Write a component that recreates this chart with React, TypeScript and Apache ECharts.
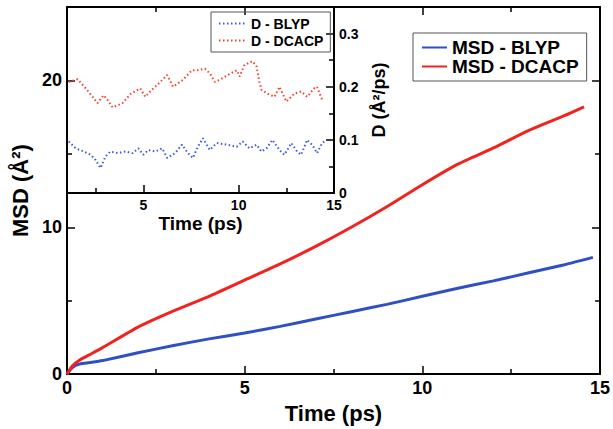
import React, { useEffect, useRef } from "react";
import * as echarts from "echarts";

// Main plot: MSD vs time
const msdBlypTime = [0, 0.15, 0.35, 0.7, 1, 2, 3, 4, 5, 6, 7, 8, 9, 10, 11, 12, 13, 14, 14.8];
const msdBlyp = [0, 0.45, 0.68, 0.8, 0.92, 1.45, 1.95, 2.4, 2.8, 3.25, 3.75, 4.25, 4.75, 5.3, 5.85, 6.35, 6.9, 7.45, 7.95];
const msdDcacpTime = [0, 0.15, 0.35, 0.7, 1, 2, 3, 4, 5, 6, 7, 8, 9, 10, 11, 12, 13, 14, 14.55];
const msdDcacp = [0, 0.55, 0.95, 1.4, 1.8, 3.2, 4.3, 5.3, 6.4, 7.5, 8.7, 10.0, 11.4, 12.9, 14.3, 15.4, 16.6, 17.6, 18.2];

// Inset: diffusion coefficient vs time
const dBlypTime = [1.09, 1.46, 1.88, 2.24, 2.5, 2.76, 3.02, 3.28, 3.65, 4.06, 4.43, 4.74, 5.0, 5.26, 5.63, 5.99, 6.25, 6.67, 7.03, 7.34, 7.6, 7.86, 8.13, 8.49, 8.85, 9.38, 9.9, 10.21, 10.57, 10.94, 11.2, 11.46, 11.77, 12.14, 12.4, 12.76, 13.07, 13.28, 13.59, 13.85, 14.11, 14.38, 14.58];
const dBlyp = [0.097, 0.084, 0.078, 0.072, 0.062, 0.047, 0.069, 0.078, 0.075, 0.078, 0.075, 0.084, 0.072, 0.081, 0.078, 0.084, 0.066, 0.075, 0.091, 0.075, 0.066, 0.087, 0.103, 0.081, 0.094, 0.091, 0.087, 0.097, 0.084, 0.091, 0.078, 0.084, 0.1, 0.081, 0.072, 0.094, 0.078, 0.072, 0.1, 0.091, 0.075, 0.094, 0.099];
const dDcacpTime = [1.09, 1.56, 1.98, 2.34, 2.6, 2.92, 3.13, 3.39, 3.91, 4.32, 4.84, 5.1, 5.36, 5.89, 6.25, 6.56, 7.08, 7.55, 7.86, 8.23, 8.49, 8.75, 9.01, 9.43, 9.9, 10.05, 10.31, 10.73, 10.94, 11.09, 11.2, 11.51, 11.88, 12.14, 12.5, 12.92, 13.28, 13.59, 13.96, 14.11, 14.38];
const dDcacp = [0.209, 0.214, 0.197, 0.181, 0.169, 0.184, 0.175, 0.161, 0.169, 0.186, 0.197, 0.181, 0.191, 0.209, 0.222, 0.2, 0.213, 0.231, 0.231, 0.234, 0.225, 0.209, 0.213, 0.222, 0.231, 0.219, 0.241, 0.248, 0.238, 0.209, 0.194, 0.187, 0.181, 0.2, 0.172, 0.187, 0.191, 0.181, 0.197, 0.2, 0.175];

// Tick labels
const mainXLabels = [0, 5, 10, 15];
const mainYLabels = [0, 10, 20];
const insetXLabels = [5, 10, 15];
const insetYLabels = [0, 0.1, 0.2, 0.3];

const FF = "'Liberation Sans', Arial, Helvetica, sans-serif";

const zip = (xs: number[], ys: number[]) => xs.map((x, i) => [x, ys[i]]);

function axis(o: any): any {
  const {
    gridIndex, position, min, max, line, ticks, tickLen, labels, labelSize, margin, name, nameGap, nameSize,
  } = o;
  return {
    type: "value",
    gridIndex,
    position,
    min,
    max,
    splitLine: { show: false },
    axisLine: { show: !!line, onZero: false, lineStyle: { color: "#000", width: 2 } },
    axisTick: {
      show: !!ticks,
      inside: true,
      length: tickLen || 6,
      customValues: ticks || [],
      lineStyle: { color: "#000", width: 1.5 },
    },
    axisLabel: labels
      ? {
          show: true,
          customValues: labels,
          fontSize: labelSize,
          fontWeight: "bold",
          color: "#000",
          fontFamily: FF,
          margin,
        }
      : { show: false },
    name: name || "",
    nameLocation: "middle",
    nameGap: nameGap || 0,
    nameTextStyle: { fontSize: nameSize, fontWeight: "bold", color: "#000", fontFamily: FF },
  };
}

export default function App() {
  const ref = useRef<HTMLDivElement>(null);
  useEffect(() => {
    if (!ref.current) return;
    const chart = echarts.init(ref.current, undefined, { renderer: "svg" });
    chart.setOption({
      animation: false,
      backgroundColor: "#fff",
      grid: [
        { left: 67, top: 7, width: 533, height: 375 },
        { left: 67, top: 7, width: 267, height: 186 },
      ],
      xAxis: [
        axis({ gridIndex: 0, position: "bottom", min: 0, max: 15, line: true, ticks: [5, 10], tickLen: 8, labels: mainXLabels, labelSize: 18, margin: 5, name: "Time (ps)", nameGap: 24, nameSize: 22 }),
        axis({ gridIndex: 0, position: "bottom", min: 0, max: 15, ticks: [2.5, 7.5, 12.5], tickLen: 5 }),
        axis({ gridIndex: 0, position: "top", min: 0, max: 15, line: true, ticks: [5, 10], tickLen: 8 }),
        axis({ gridIndex: 0, position: "top", min: 0, max: 15, ticks: [2.5, 7.5, 12.5], tickLen: 5 }),
        axis({ gridIndex: 1, position: "bottom", min: 1, max: 15, line: true, ticks: [5, 10], tickLen: 8, labels: insetXLabels, labelSize: 14, margin: 5, name: "Time (ps)", nameGap: 21, nameSize: 19 }),
        axis({ gridIndex: 1, position: "bottom", min: 1, max: 15, ticks: [2.5, 7.5, 12.5], tickLen: 5 }),
      ],
      yAxis: [
        axis({ gridIndex: 0, position: "left", min: 0, max: 25, line: true, ticks: [10, 20], tickLen: 8, labels: mainYLabels, labelSize: 18, margin: 5, name: "MSD (Å²)", nameGap: 33, nameSize: 22 }),
        axis({ gridIndex: 0, position: "left", min: 0, max: 25, ticks: [5, 15], tickLen: 5 }),
        axis({ gridIndex: 0, position: "right", min: 0, max: 25, line: true, ticks: [10, 20], tickLen: 8 }),
        axis({ gridIndex: 0, position: "right", min: 0, max: 25, ticks: [5, 15], tickLen: 5 }),
        axis({ gridIndex: 1, position: "right", min: 0, max: 0.35, line: true, ticks: [0.1, 0.2, 0.3], tickLen: 8, labels: insetYLabels, labelSize: 14, margin: 5, name: "D (Å²/ps)", nameGap: 36, nameSize: 18 }),
        axis({ gridIndex: 1, position: "right", min: 0, max: 0.35, ticks: [0.05, 0.15, 0.25], tickLen: 5 }),
      ],
      legend: [
        {
          data: ["MSD - BLYP", "MSD - DCACP"],
          left: 413,
          top: 33,
          orient: "vertical",
          itemWidth: 25,
          itemHeight: 14,
          itemGap: 0,
          padding: [5, 8],
          borderColor: "#555",
          borderWidth: 1,
          itemStyle: { opacity: 0 },
          textStyle: { fontSize: 19, fontWeight: "bold", color: "#000", lineHeight: 17, fontFamily: FF },
        },
        {
          data: ["D - BLYP", "D - DCACP"],
          left: 211,
          top: 12,
          orient: "vertical",
          itemWidth: 27,
          itemHeight: 10,
          itemGap: 0,
          padding: [3, 7],
          borderColor: "#555",
          borderWidth: 1,
          itemStyle: { opacity: 0 },
          textStyle: { fontSize: 14, fontWeight: "bold", color: "#000", lineHeight: 17, fontFamily: FF },
        },
      ],
      series: [
        {
          name: "MSD - BLYP",
          type: "line",
          xAxisIndex: 0,
          yAxisIndex: 0,
          data: zip(msdBlypTime, msdBlyp),
          symbol: "none",
          smooth: 0.2,
          color: "#2f4fc4",
          lineStyle: { width: 3, color: "#2f4fc4" },
        },
        {
          name: "MSD - DCACP",
          type: "line",
          xAxisIndex: 0,
          yAxisIndex: 0,
          data: zip(msdDcacpTime, msdDcacp),
          symbol: "none",
          smooth: 0.2,
          color: "#f0231e",
          lineStyle: { width: 3, color: "#f0231e" },
        },
        {
          name: "D - BLYP",
          type: "line",
          xAxisIndex: 4,
          yAxisIndex: 4,
          data: zip(dBlypTime, dBlyp),
          symbol: "none",
          color: "#3b5be0",
          lineStyle: { width: 2, type: [1.5, 2.5], color: "#3b5be0" },
        },
        {
          name: "D - DCACP",
          type: "line",
          xAxisIndex: 4,
          yAxisIndex: 4,
          data: zip(dDcacpTime, dDcacp),
          symbol: "none",
          color: "#f5402e",
          lineStyle: { width: 2, type: [1.5, 2.5], color: "#f5402e" },
        },
      ],
    });
    return () => chart.dispose();
  }, []);
  return <div ref={ref} style={{ position: "fixed", left: 0, top: 0, width: 613, height: 429 }} />;
}
